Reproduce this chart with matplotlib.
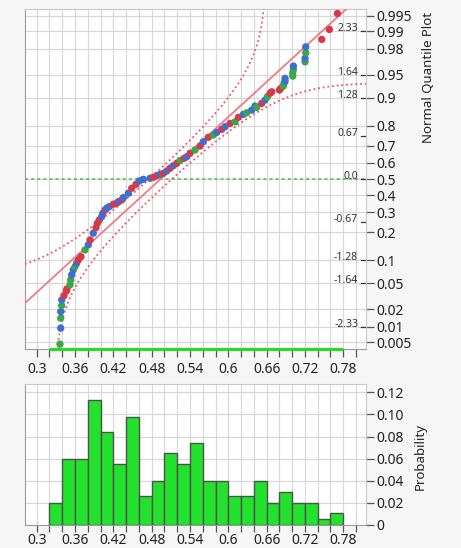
"""
graphique quantile normal + histogramme des probabilites
"""
import numpy as np
import matplotlib.pyplot as plt
from statistics import NormalDist

plt.rcParams['font.family'] = ['Noto Sans', 'DejaVu Sans']

# histogramme (classes de 0.02)
bin_edges = np.round(np.arange(0.32, 0.7801, 0.02), 2)
probas = [0.020, 0.060, 0.060, 0.113, 0.084, 0.055, 0.098, 0.026, 0.040,
          0.065, 0.055, 0.074, 0.040, 0.040, 0.026, 0.026, 0.040, 0.020,
          0.030, 0.020, 0.020, 0.0054, 0.011]

# points du graphique quantile (valeur, quantile normal, couleur)
qx = [0.3365, 0.3376, 0.3376, 0.3376, 0.3392, 0.3392, 0.3428, 0.3467, 0.3475,
      0.3522, 0.3532, 0.3548, 0.3573, 0.3600, 0.3626, 0.3652, 0.3694, 0.3756,
      0.3808, 0.3835, 0.3886, 0.3929, 0.3949, 0.3980, 0.4018, 0.4034, 0.4070,
      0.4096, 0.4137, 0.4200, 0.4253, 0.4278, 0.4331, 0.4356, 0.4435, 0.4488,
      0.4555, 0.4607, 0.4670, 0.4775, 0.4826, 0.4879, 0.4931, 0.4983, 0.5036,
      0.5088, 0.5139, 0.5193, 0.5244, 0.5307, 0.5349, 0.5401, 0.5479, 0.5558,
      0.5609, 0.5688, 0.5766, 0.5819, 0.5897, 0.5949, 0.6027, 0.6106, 0.6158,
      0.6236, 0.6289, 0.6367, 0.6419, 0.6446, 0.6524, 0.6576, 0.6612, 0.6654,
      0.6681, 0.6800, 0.6822, 0.6862, 0.6873, 0.6889, 0.6889, 0.7009, 0.7009,
      0.7019, 0.7019, 0.7202, 0.7202, 0.7213, 0.7213, 0.7464, 0.7583, 0.7708]
qz = [-2.603, -2.351, -2.194, -2.090, -1.995, -1.906, -1.838, -1.764, -1.732,
      -1.669, -1.591, -1.512, -1.433, -1.381, -1.328, -1.276, -1.224, -1.118,
      -1.039, -0.961, -0.855, -0.767, -0.698, -0.646, -0.594, -0.540, -0.488,
      -0.461, -0.436, -0.398, -0.383, -0.357, -0.331, -0.294, -0.225, -0.146,
      -0.083, -0.031, -0.005, 0.011, 0.027, 0.052, 0.074, 0.090, 0.126,
      0.169, 0.209, 0.247, 0.291, 0.326, 0.351, 0.405, 0.457, 0.520,
      0.587, 0.657, 0.693, 0.735, 0.783, 0.824, 0.877, 0.902, 0.972,
      1.019, 1.044, 1.087, 1.150, 1.129, 1.192, 1.244, 1.296, 1.350,
      1.375, 1.402, 1.428, 1.465, 1.507, 1.543, 1.586, 1.622, 1.674,
      1.728, 1.780, 1.847, 1.901, 1.989, 2.083, 2.200, 2.357, 2.609]
qc = list("gbgbgbrrrggbbgbrrgbrbrrrbbrbbrrbrbbrrbbbrrbrbrbrgrbrgrbrgbrbrgrbgbbgrbgrrrrggbbgggbgbgbrrr")

couleurs = {'r': '#d63a4a', 'b': '#3d6fd1', 'g': '#3aa848'}

# ajustement normal et bande de Lilliefors
mu, sigma, d_lillie = 0.494, 0.1085, 0.065

prob_ticks = [0.005, 0.01, 0.02, 0.05, 0.1, 0.2, 0.3, 0.4, 0.5, 0.6, 0.7,
              0.8, 0.9, 0.95, 0.98, 0.99, 0.995]
z_marks = [-2.33, -1.64, -1.28, -0.67, 0.0, 0.67, 1.28, 1.64, 2.33]

nd = NormalDist()
xlim = (0.2817, 0.8156)
zlim = (-2.68, 2.68)
gris_grille = '#d8d8d8'
gris_axe = '#9a9a9a'

fig = plt.figure(figsize=(4.61, 5.48), dpi=100, facecolor='#f6f6f6')
ax1 = fig.add_axes([0.0542, 0.3631, 0.7397, 0.6205])
ax2 = fig.add_axes([0.0542, 0.0420, 0.7397, 0.2573])

xt = np.round(np.arange(0.30, 0.8001, 0.02), 2)
xtl = [f'{v:g}' if i % 3 == 0 else '' for i, v in enumerate(xt)]

for ax in (ax1, ax2):
    ax.set_facecolor('white')
    ax.set_xlim(*xlim)
    ax.set_xticks(xt)
    ax.set_xticklabels(xtl)
    ax.set_axisbelow(True)
    ax.grid(True, color=gris_grille, lw=0.9)
    ax.yaxis.tick_right()
    ax.tick_params(axis='both', colors='#555555', labelcolor='#222222',
                   labelsize=10, length=6, width=0.9)
    ax.tick_params(axis='x', pad=3)
    ax.tick_params(axis='y', pad=1.5)
    for s in ax.spines.values():
        s.set_color('#c8c8c8')
    ax.spines['left'].set_color(gris_axe)
    ax.spines['bottom'].set_color(gris_axe)

# texte du bas un peu remonte pour rester dans l image
ax2.tick_params(axis='x', length=5, pad=1)

# --- graphique quantile normal
ax1.set_ylim(*zlim)
ax1.set_yticks([nd.inv_cdf(p) for p in prob_ticks])
ax1.set_yticklabels([f'{p:g}' for p in prob_ticks])

xs = np.linspace(xlim[0], xlim[1], 3000)
zf = (xs - mu) / sigma
pf = np.array([nd.cdf(z) for z in zf])
haut = np.array([nd.inv_cdf(p + d_lillie) if p + d_lillie < 1 else np.nan for p in pf])
bas = np.array([nd.inv_cdf(p - d_lillie) if p - d_lillie > 0 else np.nan for p in pf])

ax1.axhline(0, color='#45c045', lw=1.1, ls=(0, (2, 2)), zorder=2)
ax1.plot(xs, zf, color='#f07a80', lw=1.3, zorder=3)
ax1.plot(xs, haut, color='#ef5565', lw=1.3, ls=(0, (1, 1.6)), zorder=3)
ax1.plot(xs, bas, color='#ef5565', lw=1.3, ls=(0, (1, 1.6)), zorder=3)
ax1.scatter(qx, qz, c=[couleurs[c] for c in qc], s=28, lw=0, zorder=4)
ax1.plot([bin_edges[0], bin_edges[-1]], [zlim[0], zlim[0]], color='#22dd22',
         lw=2.2, solid_capstyle='butt', clip_on=False, zorder=5)

ytr = ax1.get_yaxis_transform()
for z in z_marks:
    ax1.text(0.977, z, f'{z:.2f}' if z != 0 else '0.0', transform=ytr,
             ha='right', va='baseline', fontsize=7.5, color='#333333')
    ax1.plot([0.985, 0.997], [z, z], transform=ytr, color='#333333', lw=0.9)

# --- histogramme
ax2.bar(bin_edges[:-1], probas, width=0.02, align='edge', color='#22e22e',
        edgecolor='#505050', lw=1, zorder=3)
ax2.set_ylim(0, 0.1275)
yt = [0, 0.02, 0.04, 0.06, 0.08, 0.10, 0.12]
ax2.set_yticks(yt)
ax2.set_yticklabels(['0'] + [f'{v:.2f}' for v in yt[1:]])

fig.text(428 / 461, 1 - 77.5 / 548, 'Normal Quantile Plot', rotation=90,
         ha='center', va='center', fontsize=9.5, color='#222222')
fig.text(420 / 461, 1 - 456 / 548, 'Probability', rotation=90,
         ha='center', va='center', fontsize=9.5, color='#222222')

fig.savefig('out.png', dpi=100, facecolor=fig.get_facecolor())
